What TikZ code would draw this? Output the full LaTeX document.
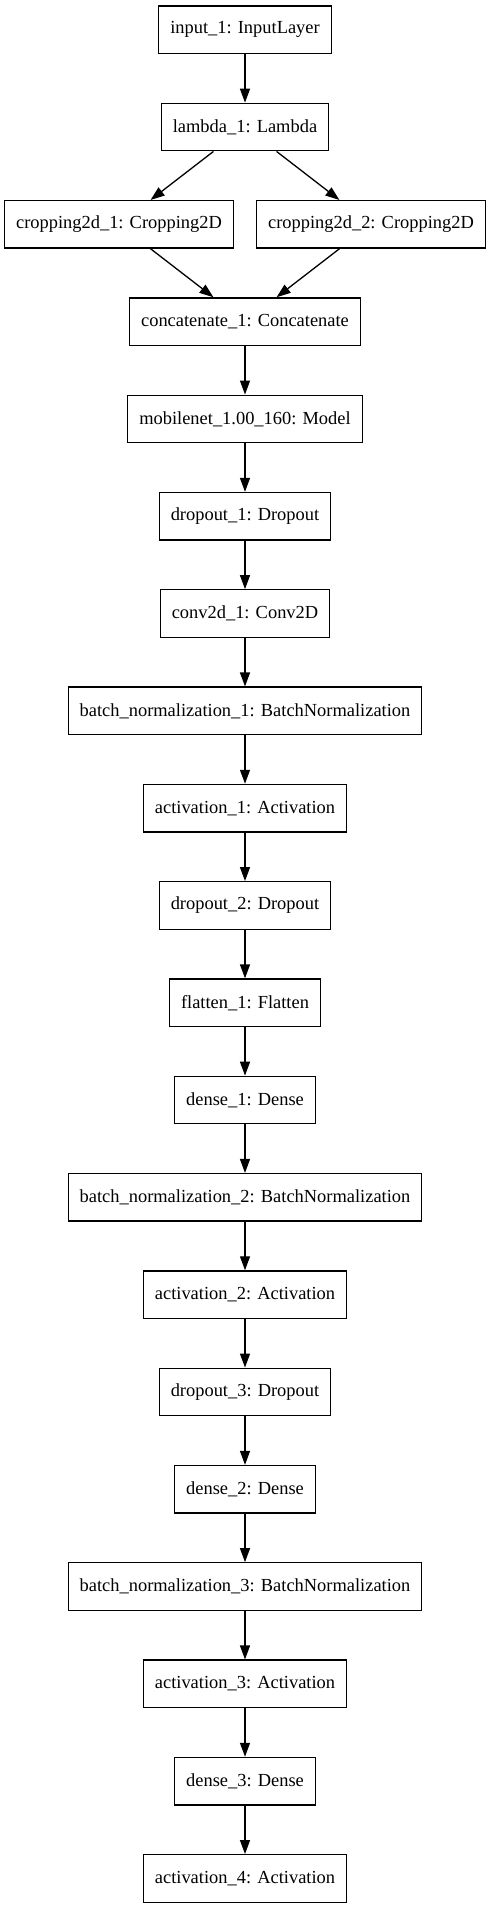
\documentclass[tikz,border=0pt]{standalone}
\usepackage{fontspec}
\setmainfont{Liberation Serif}
\usepackage{tikz}
\usetikzlibrary{arrows.meta,positioning}

\begin{document}
\begin{tikzpicture}[
    x=1bp, y=-1bp,
    font=\fontsize{18.5}{22}\selectfont,
    >={Triangle[length=14bp,width=10bp]},
    layer/.style={draw, line width=1.3bp, inner xsep=11.5bp, inner ysep=0pt,
                  minimum height=47.5bp, align=center},
    arr/.style={->, line width=1.3bp},
  ]
  \useasboundingbox (0,0) rectangle (491,1909);
  % input + split
  \node[layer] (inp)  at (245,29.75)   {input\_1: InputLayer};
  \node[layer] (lam)  at (245,127.05)  {lambda\_1: Lambda};
  \node[layer] (crpa) at (119,224.35)  {cropping2d\_1: Cropping2D};
  \node[layer] (crpb) at (371,224.35)  {cropping2d\_2: Cropping2D};
  \node[layer] (cat)  at (245,321.65)  {concatenate\_1: Concatenate};
  % backbone
  \node[layer] (mob)  at (245,418.95)  {mobilenet\_1.00\_160: Model};
  \node[layer] (dra)  at (245,516.25)  {dropout\_1: Dropout};
  \node[layer] (conv) at (245,613.55)  {conv2d\_1: Conv2D};
  \node[layer] (bna)  at (245,710.85)  {batch\_normalization\_1: BatchNormalization};
  \node[layer] (aca)  at (245,808.15)  {activation\_1: Activation};
  \node[layer] (drb)  at (245,905.45)  {dropout\_2: Dropout};
  \node[layer] (flt)  at (245,1002.75) {flatten\_1: Flatten};
  % head
  \node[layer] (dna)  at (245,1100.05) {dense\_1: Dense};
  \node[layer] (bnb)  at (245,1197.35) {batch\_normalization\_2: BatchNormalization};
  \node[layer] (acb)  at (245,1294.65) {activation\_2: Activation};
  \node[layer] (drc)  at (245,1391.95) {dropout\_3: Dropout};
  \node[layer] (dnb)  at (245,1489.25) {dense\_2: Dense};
  \node[layer] (bnc)  at (245,1586.55) {batch\_normalization\_3: BatchNormalization};
  \node[layer] (acc)  at (245,1683.85) {activation\_3: Activation};
  \node[layer] (dnc)  at (245,1781.15) {dense\_3: Dense};
  \node[layer] (acd)  at (245,1878.45) {activation\_4: Activation};
  % arrows
  \draw[arr] (inp)  -- (lam);
  \draw[arr] (lam)  -- (crpa);
  \draw[arr] (lam)  -- (crpb);
  \draw[arr] (crpa) -- (cat);
  \draw[arr] (crpb) -- (cat);
  \draw[arr] (cat)  -- (mob);
  \draw[arr] (mob)  -- (dra);
  \draw[arr] (dra)  -- (conv);
  \draw[arr] (conv) -- (bna);
  \draw[arr] (bna)  -- (aca);
  \draw[arr] (aca)  -- (drb);
  \draw[arr] (drb)  -- (flt);
  \draw[arr] (flt)  -- (dna);
  \draw[arr] (dna)  -- (bnb);
  \draw[arr] (bnb)  -- (acb);
  \draw[arr] (acb)  -- (drc);
  \draw[arr] (drc)  -- (dnb);
  \draw[arr] (dnb)  -- (bnc);
  \draw[arr] (bnc)  -- (acc);
  \draw[arr] (acc)  -- (dnc);
  \draw[arr] (dnc)  -- (acd);
\end{tikzpicture}
\end{document}
